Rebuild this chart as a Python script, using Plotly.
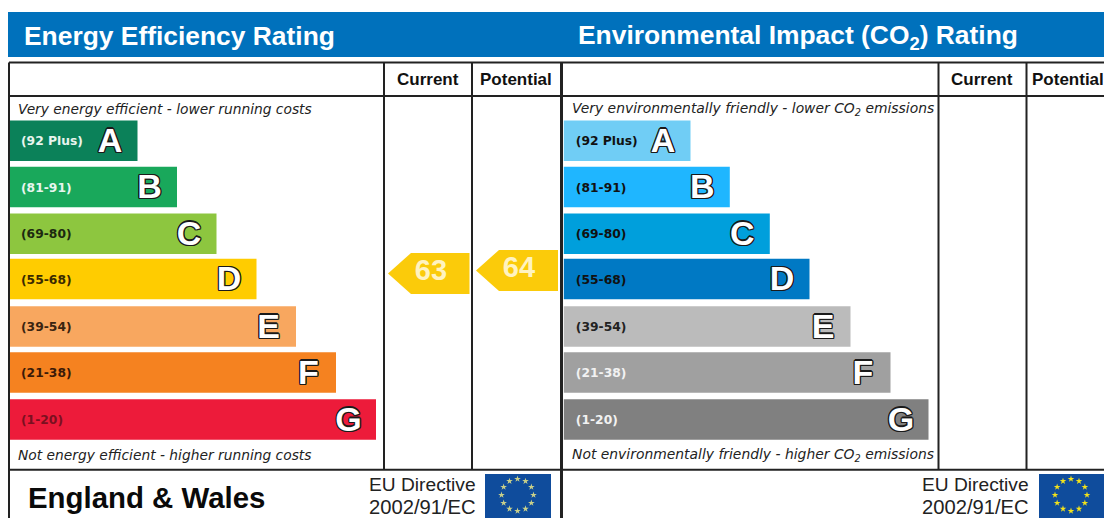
import math
import plotly.graph_objects as go

bands = ["A", "B", "C", "D", "E", "F", "G"]
ranges = ["(92 Plus)", "(81-91)", "(69-80)", "(55-68)", "(39-54)", "(21-38)", "(1-20)"]
eff_lengths = [128.5, 168, 207.5, 247.5, 287, 327, 367]
env_lengths = [126.7, 166, 206, 245.7, 286.7, 326.7, 364.7]
eff_colors = ["#0B8159", "#19A85B", "#8DC63F", "#FFCC00", "#F8A75F", "#F58220", "#ED1B3A"]
env_colors = ["#70CDF5", "#1FB6FF", "#009FDC", "#0079C4", "#BBBBBB", "#A0A0A0", "#808080"]
eff_label_colors = ["#E8F5EE", "#E8F5EE", "#1c2a10", "#3a2a00", "#3a2410", "#3a1a08", "#7A1020"]
env_label_colors = ["#111", "#111", "#111", "#111", "#222", "#F2F2F2", "#F2F2F2"]
current_rating = 63
potential_rating = 64

LINE = "#222222"
SANS = "Liberation Sans, Arial, sans-serif"
VERD = "DejaVu Sans, Verdana, sans-serif"
band_y = [140.7, 187, 233.7, 279, 326.5, 372.5, 419.5]
BAR_H = 40.6
LEFT_X, RIGHT_X = 9, 563.8
OUTLINE = ",".join(f"{a}px {b}px 0 #1a1a1a" for a, b in
                   [(-1.2, 0), (1.2, 0), (0, -1.2), (0, 1.2), (-1, -1), (1, -1), (-1, 1), (1, 1)])

fig = go.Figure()


def panel(x0, lengths, colors, label_colors):
    fig.add_trace(go.Bar(orientation="h", base=x0, x=lengths, y=band_y, width=BAR_H,
                         marker=dict(color=colors, line_width=0), hoverinfo="skip"))
    fig.add_trace(go.Scatter(x=[x0 + 12] * 7, y=[y + 1.5 for y in band_y], mode="text", text=ranges,
                             textposition="middle right", hoverinfo="skip",
                             textfont=dict(family=VERD, size=12.3, weight="bold", color=label_colors)))
    fig.add_trace(go.Scatter(x=[x0 + l - 27.5 for l in lengths], y=[y + 2.5 for y in band_y],
                             mode="text", text=bands, textposition="middle center", hoverinfo="skip",
                             textfont=dict(family=SANS, size=34, weight="bold", color="white", shadow=OUTLINE)))


panel(LEFT_X, eff_lengths, eff_colors, eff_label_colors)
panel(RIGHT_X, env_lengths, env_colors, env_label_colors)


def arrow(rating, x_tip, x_right):
    yc = 273.5 - 3 * (rating - 63)
    half = 20.5
    shoulder = x_tip + 23
    fig.add_trace(go.Scatter(x=[x_tip, shoulder, x_right, x_right, shoulder, x_tip],
                             y=[yc, yc - half, yc - half, yc + half, yc + half, yc],
                             mode="lines", fill="toself", fillcolor="#FBCB0A", line_width=0, hoverinfo="skip"))
    fig.add_trace(go.Scatter(x=[x_tip + 43], y=[yc - 1], mode="text", text=[str(rating)],
                             textposition="middle center", hoverinfo="skip",
                             textfont=dict(family=SANS, size=29, weight="bold", color="#FFF3C0")))


arrow(current_rating, 388, 469.5)
arrow(potential_rating, 476, 558)


def flag(x0, x1, cx, star_color):
    fig.add_shape(type="rect", x0=x0, x1=x1, y0=474, y1=518, fillcolor="#0F4C9C", line_width=0, layer="below")
    ang = [math.radians(30 * i) for i in range(12)]
    fig.add_trace(go.Scatter(x=[cx + 16 * math.sin(a) for a in ang], y=[495 - 16 * math.cos(a) for a in ang],
                             mode="markers", marker=dict(symbol="star", size=5, color=star_color, line_width=0),
                             hoverinfo="skip"))


flag(485, 551, 517.5, "#C9D08A")
flag(1039, 1104, 1071, "#F2E21B")

shapes = [dict(type="rect", x0=8, x1=1104, y0=12, y1=57, fillcolor="#0071BC", line_width=0, layer="below")]
segs = [(9, 1104, 62.5, 62.5, 2), (9, 1104, 96, 96, 2), (9, 1104, 469.7, 469.7, 2),
        (9, 9, 62.5, 518, 2), (561.5, 561.5, 62.5, 518, 3),
        (384, 384, 62.5, 469.7, 2), (472, 472, 62.5, 469.7, 2),
        (938.5, 938.5, 62.5, 469.7, 2), (1026.5, 1026.5, 62.5, 469.7, 2)]
for x0, x1, y0, y1, w in segs:
    shapes.append(dict(type="line", x0=x0, x1=x1, y0=y0, y1=y1, line=dict(color=LINE, width=w), layer="above"))
for s in shapes:
    fig.add_shape(**s)


def note(x, y, text, family=SANS, size=16, color="#111", anchor="left", weight="normal", style="normal"):
    fig.add_annotation(x=x, y=y, text=text, showarrow=False, xanchor=anchor, yanchor="middle",
                       font=dict(family=family, size=size, color=color, weight=weight, style=style),
                       xref="x", yref="y", borderpad=0, align=anchor)


note(23, 35.5, "Energy Efficiency Rating", size=26.4, color="white", weight="bold")
note(577, 37, "Environmental Impact (CO<sub>2</sub>) Rating", size=26.4, color="white", weight="bold")
note(428, 79, "Current", size=17, anchor="center", weight="bold")
note(515.5, 79, "Potential", size=17, anchor="center", weight="bold")
note(982, 79, "Current", size=17, anchor="center", weight="bold")
note(1031, 79, "Potential", size=17, anchor="left", weight="bold")
note(17, 108.5, "Very energy efficient - lower running costs", family=VERD, size=13.8, color="#222", style="italic")
note(17, 454.5, "Not energy efficient - higher running costs", family=VERD, size=13.8, color="#222", style="italic")
note(570.5, 108.5, "Very environmentally friendly - lower CO<sub>2</sub> emissions", family=VERD, size=13.9, color="#222", style="italic")
note(570.5, 454.5, "Not environmentally friendly - higher CO<sub>2</sub> emissions", family=VERD, size=13.9, color="#222", style="italic")
note(27, 497.5, "England & Wales", size=29.4, color="#0a0a0a", weight="bold")
for right in (476.5, 1029.5):
    note(right, 484.5, "EU Directive", size=19.2, anchor="right", color="#222")
    note(right, 507, "2002/91/EC", size=20.2, anchor="right", color="#222")

fig.update_layout(
    width=1104, height=518, margin=dict(l=0, r=0, t=0, b=0), showlegend=False,
    paper_bgcolor="white", plot_bgcolor="white", barmode="overlay",
    xaxis=dict(range=[0, 1104], visible=False, fixedrange=True),
    yaxis=dict(range=[518, 0], visible=False, fixedrange=True),
)
fig.write_html("out.html", config=dict(displayModeBar=False),
               post_script="document.body.style.margin='0';document.body.style.overflow='hidden';")
